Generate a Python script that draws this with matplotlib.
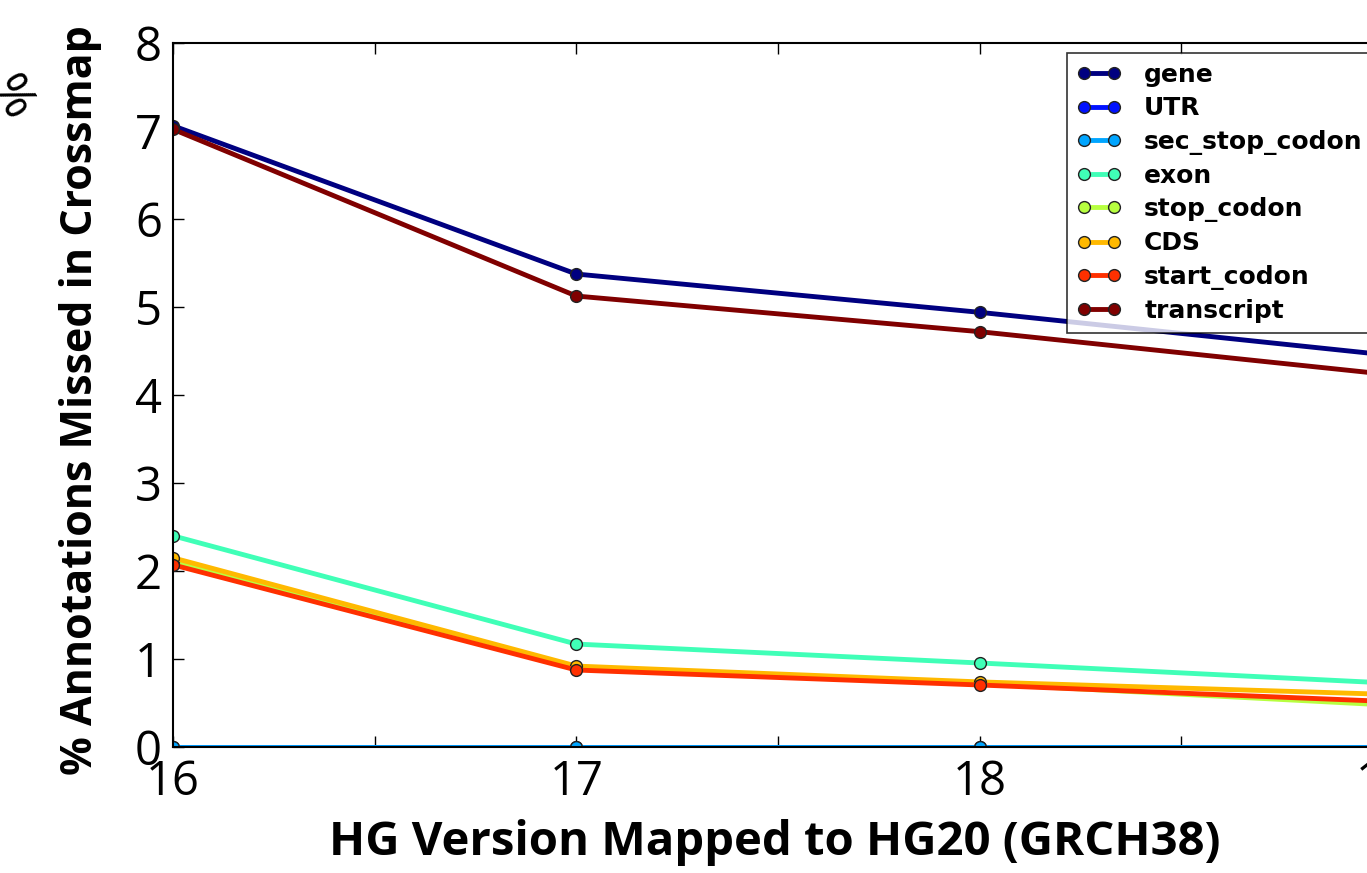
import numpy as np
import matplotlib
matplotlib.use("Agg")
import matplotlib.pyplot as plt

versions = [16, 17, 18, 19]
names = ["gene", "UTR", "sec_stop_codon", "exon", "stop_codon", "CDS",
         "start_codon", "transcript"]
gene = [7.06, 5.375, 4.94, 4.46]
utr = [0.0, 0.0, 0.0, 0.0]
sec_stop_codon = [0.0, 0.0, 0.0, 0.0]
exon = [2.40, 1.17, 0.955, 0.73]
stop_codon = [2.10, 0.90, 0.72, 0.48]
cds = [2.15, 0.92, 0.74, 0.60]
start_codon = [2.07, 0.875, 0.705, 0.52]
transcript = [7.02, 5.125, 4.72, 4.24]
series = [gene, utr, sec_stop_codon, exon, stop_codon, cds, start_codon, transcript]

colors = plt.cm.jet(np.linspace(0, 1, len(names)))

fig = plt.figure(figsize=(13.67, 8.73), dpi=100)
# axes runs past the right edge of the figure, as in the cropped original
ax = fig.add_axes([0.1266, 0.1443, 0.885, 0.8064])

for name, vals, c in zip(names, series, colors):
    ax.plot(versions, vals, color=c, lw=3.5, marker="o", ms=8.5,
            mec="#222222", mew=1.0, label=name)

ax.set_xlim(16, 19)
ax.set_ylim(0, 8)
ax.set_xticks(np.arange(16, 19.01, 0.5))
ax.set_xticklabels(["16", "", "17", "", "18", "", "19"])
ax.set_yticks(range(0, 9))
ax.tick_params(direction="in", length=8, width=1, top=True, right=True,
               labelsize=34, pad=8)
for lab in ax.get_xticklabels() + ax.get_yticklabels():
    lab.set_family("Open Sans")
for sp in ax.spines.values():
    sp.set_linewidth(1.5)

ax.set_xlabel("HG Version Mapped to HG20 (GRCH38)", fontsize=34,
              fontweight="bold", family="Open Sans")
ax.xaxis.set_label_coords(0.497, -0.102)
ax.set_ylabel("% Annotations Missed in Crossmap", fontsize=31,
              fontweight="bold", family="Open Sans")
ax.yaxis.set_label_coords(-0.059, 0.493)
fig.text(0.007, 0.887, "%", fontsize=36, rotation=-60, family="Open Sans",
         ha="center", va="center")

leg = ax.legend(loc="upper right", prop={"size": 18, "weight": "bold"},
                frameon=True, fancybox=False, borderaxespad=0.4,
                labelspacing=0.37, handlelength=1.8, handletextpad=0.9,
                numpoints=2)
leg.get_frame().set_edgecolor("black")
leg.get_frame().set_linewidth(1.2)

fig.savefig("out.png", dpi=100)
